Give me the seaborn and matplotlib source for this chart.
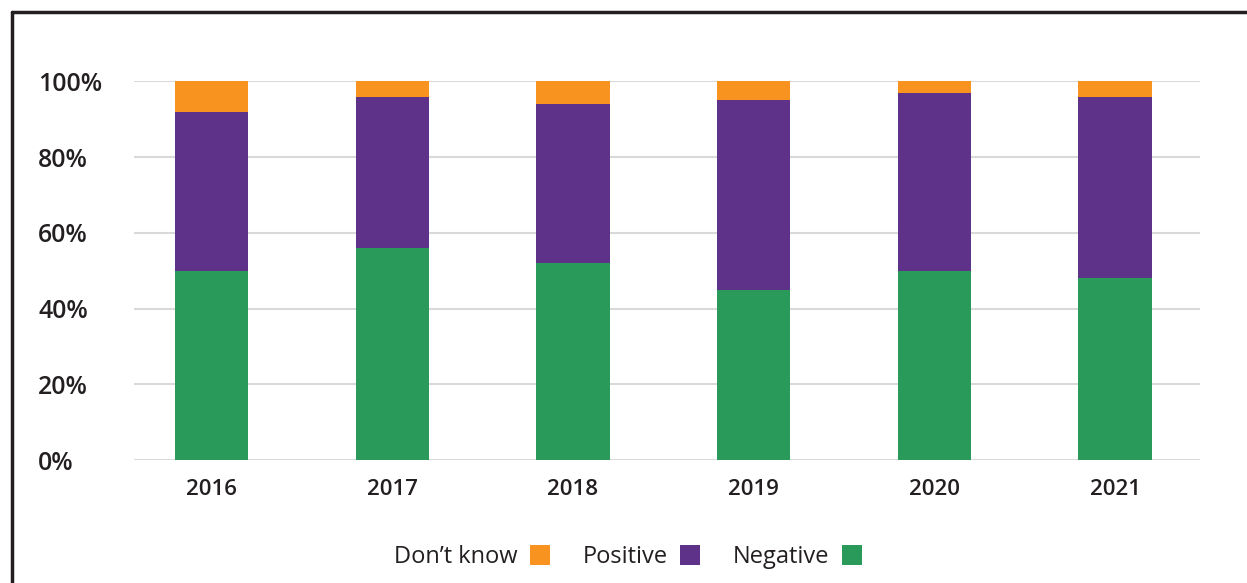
import numpy as np
import pandas as pd
import matplotlib
matplotlib.use("Agg")
import matplotlib.pyplot as plt
import seaborn as sns
from matplotlib.lines import Line2D

years = ["2016", "2017", "2018", "2019", "2020", "2021"]
negative = [50, 56, 52, 45, 50, 48]
positive = [42, 40, 42, 50, 47, 48]
dont_know = [8, 4, 6, 5, 3, 4]

series_names = ["Don\u2019t know", "Positive", "Negative"]
colors = {"Don\u2019t know": "#F7931E", "Positive": "#5E3288", "Negative": "#2A9A5B"}
y_ticks = [0, 20, 40, 60, 80, 100]


def build_frame() -> pd.DataFrame:
    df = pd.DataFrame({
        "year": years,
        "Negative": negative,
        "Positive": positive,
        "Don\u2019t know": dont_know,
    })
    # cumulative tops for stacking (drawn back to front)
    df["top_neg"] = df["Negative"]
    df["top_pos"] = df["Negative"] + df["Positive"]
    df["top_dk"] = df["top_pos"] + df["Don\u2019t know"]
    return df


def main():
    sns.set_theme(style="white")
    plt.rcParams["font.family"] = ["Open Sans", "DejaVu Sans"]

    df = build_frame()

    fig = plt.figure(figsize=(12.47, 5.83), dpi=100)
    ax = fig.add_axes([134 / 1247, 1 - 460 / 583, (1200 - 134) / 1247, (460 - 81.5) / 583])

    bar_w = 0.405
    sns.barplot(data=df, x="year", y="top_dk", color=colors["Don\u2019t know"],
                width=bar_w, saturation=1, ax=ax, zorder=3)
    sns.barplot(data=df, x="year", y="top_pos", color=colors["Positive"],
                width=bar_w, saturation=1, ax=ax, zorder=3)
    sns.barplot(data=df, x="year", y="top_neg", color=colors["Negative"],
                width=bar_w, saturation=1, ax=ax, zorder=3)
    for p in ax.patches:
        p.set_linewidth(0)

    ax.set_ylim(0, 100)
    ax.set_xlim(-0.43, 5.47)
    ax.set_yticks(y_ticks)
    ax.set_yticklabels([f"{v}%" for v in y_ticks])
    ax.yaxis.grid(True, color="#d9d9d9", linewidth=1.5, zorder=0)
    ax.xaxis.grid(False)
    ax.set_axisbelow(True)
    for s in ax.spines.values():
        s.set_visible(False)
    ax.set_xlabel("")
    ax.set_ylabel("")

    ax.tick_params(axis="y", length=0, pad=69, labelsize=17.8, labelcolor="#231f20")
    ax.tick_params(axis="x", length=0, pad=14, labelsize=16, labelcolor="#231f20")
    for lab in ax.get_yticklabels():
        lab.set_horizontalalignment("left")
        lab.set_fontweight("semibold")
    for lab in ax.get_xticklabels():
        lab.set_fontweight("semibold")

    handles = [Line2D([0], [0], marker="s", linestyle="none", markersize=14,
                      markerfacecolor=colors[n], markeredgewidth=0) for n in series_names]
    fig.legend(handles, series_names, loc="center", bbox_to_anchor=(629 / 1247, 1 - 557 / 583),
               ncol=3, frameon=False, markerfirst=False, fontsize=17,
               handletextpad=0.45, columnspacing=1.3, handlelength=1.0,
               labelcolor="#231f20")

    # outer frame (left and top edges)
    fig.add_artist(Line2D([12 / 1247, 12 / 1247], [0, 1 - 12 / 583],
                          transform=fig.transFigure, color="#231f20", linewidth=2.5))
    fig.add_artist(Line2D([12 / 1247, 1], [1 - 12 / 583, 1 - 12 / 583],
                          transform=fig.transFigure, color="#231f20", linewidth=2.5))

    fig.savefig("out.png", dpi=100)
    plt.close(fig)


if __name__ == "__main__":
    main()
